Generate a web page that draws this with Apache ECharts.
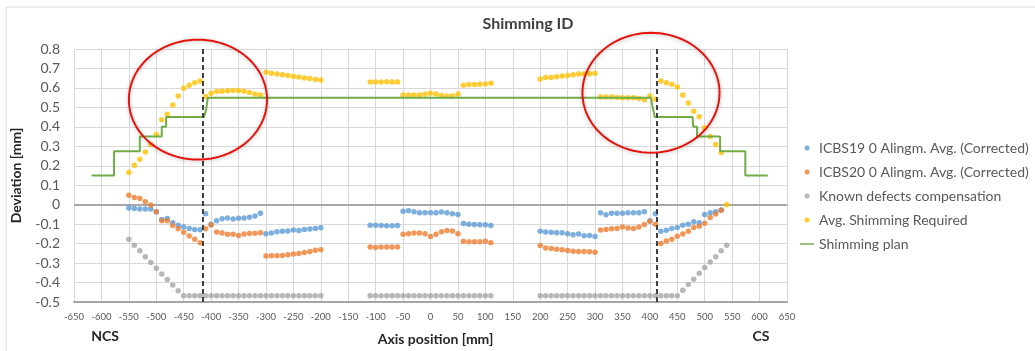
<!DOCTYPE html>
<html>
<head>
<meta charset="utf-8">
<script src="https://cdn.jsdelivr.net/npm/echarts@6/dist/echarts.min.js"></script>
<style>
  html, body { margin: 0; padding: 0; background: #ffffff; }
  #chart { width: 1035px; height: 351px; }
</style>
</head>
<body>
<div id="chart"></div>
<script>
// Axis positions [mm] where the shimming values were evaluated
const axisPos = [
  -550, -540, -530, -520, -510, -500, -490, -480, -470, -460, -450, -440, -430, -420,
  -410, -400, -390, -380, -370, -360, -350, -340, -330, -320, -310,
  -300, -290, -280, -270, -260, -250, -240, -230, -220, -210, -200,
  -110, -100, -90, -80, -70, -60, -50, -40, -30, -20, -10, 0, 10, 20, 30, 40, 50,
  60, 70, 80, 90, 100, 110,
  200, 210, 220, 230, 240, 250, 260, 270, 280, 290, 300,
  310, 320, 330, 340, 350, 360, 370, 380, 390, 400, 410,
  420, 430, 440, 450, 460, 470, 480, 490, 500, 510, 520, 530, 540
];

// ICBS19 0 Alingm. Avg. (Corrected) [mm]
const icbs19 = [
  -0.017, -0.020, -0.022, -0.022, -0.022, -0.036, -0.076, -0.071, -0.093, -0.105, -0.115, -0.122, -0.127, -0.129,
  -0.047, -0.100, -0.083, -0.072, -0.068, -0.073, -0.070, -0.068, -0.064, -0.058, -0.044,
  -0.149, -0.146, -0.139, -0.137, -0.135, -0.130, -0.132, -0.127, -0.125, -0.122, -0.118,
  -0.105, -0.105, -0.107, -0.108, -0.108, -0.107,
  -0.034, -0.031, -0.036, -0.041, -0.042, -0.042, -0.042, -0.037, -0.041, -0.046, -0.051,
  -0.097, -0.100, -0.102, -0.103, -0.103, -0.107,
  -0.137, -0.140, -0.142, -0.144, -0.144, -0.149, -0.154, -0.151, -0.159, -0.158, -0.163,
  -0.042, -0.052, -0.044, -0.044, -0.044, -0.042, -0.042, -0.041, -0.036, -0.083, -0.046,
  -0.137, -0.131, -0.122, -0.117, -0.106, -0.101, -0.088, -0.093, -0.051, -0.042, -0.036, -0.027, null
];

// ICBS20 0 Alingm. Avg. (Corrected) [mm]
const icbs20 = [
  0.049, 0.037, 0.032, 0.015, -0.002, -0.036, -0.083, -0.083, -0.107, -0.124, -0.142, -0.161, -0.178, -0.196,
  -0.124, -0.104, -0.140, -0.146, -0.152, -0.152, -0.158, -0.150, -0.148, -0.147, -0.144,
  -0.264, -0.262, -0.262, -0.261, -0.257, -0.254, -0.251, -0.246, -0.240, -0.234, -0.232,
  -0.217, -0.220, -0.217, -0.217, -0.217, -0.217,
  -0.152, -0.149, -0.146, -0.146, -0.149, -0.164, -0.152, -0.139, -0.132, -0.135, -0.149,
  -0.188, -0.190, -0.190, -0.190, -0.188, -0.196,
  -0.210, -0.222, -0.225, -0.229, -0.232, -0.236, -0.239, -0.241, -0.241, -0.242, -0.244,
  -0.130, -0.127, -0.124, -0.122, -0.115, -0.120, -0.122, -0.115, -0.102, -0.085, -0.100,
  -0.199, -0.187, -0.177, -0.162, -0.150, -0.137, -0.117, -0.111, -0.095, -0.066, -0.048, -0.028, null
];

// Known defects compensation [mm]
const knownDefects = [
  -0.178, -0.208, -0.237, -0.268, -0.297, -0.326, -0.356, -0.384, -0.413, -0.442, -0.468, -0.468, -0.468, -0.468,
  -0.468, -0.468, -0.468, -0.468, -0.468, -0.468, -0.468, -0.468, -0.468, -0.468, -0.468,
  -0.468, -0.468, -0.468, -0.468, -0.468, -0.468, -0.468, -0.468, -0.468, -0.468, -0.468,
  -0.468, -0.468, -0.468, -0.468, -0.468, -0.468,
  -0.468, -0.468, -0.468, -0.468, -0.468, -0.468, -0.468, -0.468, -0.468, -0.468, -0.468,
  -0.468, -0.468, -0.468, -0.468, -0.468, -0.468,
  -0.468, -0.468, -0.468, -0.468, -0.468, -0.468, -0.468, -0.468, -0.468, -0.468, -0.468,
  -0.468, -0.468, -0.468, -0.468, -0.468, -0.468, -0.468, -0.468, -0.468, -0.468, -0.468,
  -0.468, -0.468, -0.468, -0.468, -0.440, -0.410, -0.383, -0.352, -0.323, -0.295, -0.268, -0.237, -0.208
];

// Avg. Shimming Required [mm]
const shimRequired = [
  0.166, 0.203, 0.234, 0.271, 0.309, 0.361, 0.437, 0.465, 0.512, 0.559, 0.598, 0.614, 0.627, 0.635,
  0.556, 0.573, 0.582, 0.583, 0.585, 0.587, 0.587, 0.583, 0.577, 0.569, 0.563,
  0.680, 0.675, 0.671, 0.668, 0.664, 0.659, 0.656, 0.651, 0.648, 0.643, 0.641,
  0.630, 0.630, 0.630, 0.632, 0.630, 0.630,
  0.563, 0.563, 0.563, 0.564, 0.568, 0.573, 0.569, 0.561, 0.559, 0.559, 0.569,
  0.614, 0.617, 0.617, 0.619, 0.620, 0.624,
  0.646, 0.653, 0.654, 0.658, 0.661, 0.664, 0.668, 0.671, 0.671, 0.673, 0.676,
  0.554, 0.554, 0.553, 0.551, 0.549, 0.549, 0.549, 0.546, 0.539, 0.558, 0.542,
  0.635, 0.627, 0.619, 0.605, 0.563, 0.522, 0.480, 0.452, 0.395, 0.351, 0.309, 0.268, 0.000
];

// Shimming plan: step profile, x [mm] and shim thickness [mm]
const planX = [-618, -577, -577, -530, -530, -490, -490, -482, -482, -413, -409, -406,
               402, 405, 409, 478, 479, 486, 486, 528, 528, 574, 574, 615];
const planY = [0.15, 0.15, 0.275, 0.275, 0.35, 0.35, 0.40, 0.40, 0.45, 0.45, 0.49, 0.55,
               0.55, 0.50, 0.45, 0.45, 0.40, 0.40, 0.35, 0.35, 0.275, 0.275, 0.15, 0.15];

// Limits of the shimmed regions [mm]
const regionLimits = [-415, 412];

// Highlighted zones: centre x [mm], centre y [mm], half-width [mm], half-height [mm]
const highlightZones = [
  [-424, 0.540, 126, 0.308],
  [402, 0.575, 125, 0.308]
];

const xTicks = { min: -650, max: 650, step: 50 };
const yTicks = { min: -0.5, max: 0.8, step: 0.1 };

const FONT = 'Lato, "Open Sans", sans-serif';
const TXT = '#595959';
const GRID_LINE = '#d9d9d9';
const AXIS_LINE = '#a6a6a6';
const PLAN_GREEN = '#70ad47';

function pairs(xs, ys) {
  const out = [];
  for (let i = 0; i < xs.length; i++) {
    if (ys[i] !== null && ys[i] !== undefined) out.push([xs[i], ys[i]]);
  }
  return out;
}

const chart = echarts.init(document.getElementById('chart'), null, { renderer: 'canvas' });

function scatterSeries(name, values, color) {
  return {
    name: name,
    type: 'scatter',
    data: pairs(axisPos, values),
    symbol: 'circle',
    symbolSize: 5.5,
    itemStyle: { color: color },
    emphasis: { disabled: true },
    silent: true
  };
}

const option = {
  backgroundColor: '#ffffff',
  animation: false,
  textStyle: { fontFamily: FONT },
  title: {
    text: 'Shimming ID',
    left: 523,
    top: 11,
    textAlign: 'center',
    textStyle: { fontFamily: FONT, fontSize: 16, fontWeight: 'bold', color: '#404040' }
  },
  grid: { left: 74, right: 248, top: 49, bottom: 46, containLabel: false },
  legend: {
    orient: 'vertical',
    left: 800,
    top: 141,
    padding: 0,
    itemWidth: 14,
    itemHeight: 5,
    itemGap: 10,
    textStyle: { fontFamily: FONT, fontSize: 14, color: TXT },
    data: [
      { name: 'ICBS19 0 Alingm. Avg. (Corrected)', icon: 'circle' },
      { name: 'ICBS20 0 Alingm. Avg. (Corrected)', icon: 'circle' },
      { name: 'Known defects compensation', icon: 'circle' },
      { name: 'Avg. Shimming Required', icon: 'circle' },
      { name: 'Shimming plan', icon: 'path://M0,0H20V2H0Z', itemStyle: { color: PLAN_GREEN } }
    ]
  },
  xAxis: {
    type: 'value',
    min: xTicks.min,
    max: xTicks.max,
    interval: xTicks.step,
    name: 'Axis position [mm]',
    nameLocation: 'middle',
    nameGap: 30,
    nameTextStyle: { fontFamily: FONT, fontSize: 14, fontWeight: 'bold', color: '#262626', padding: [0, 0, 0, 10] },
    axisLine: { show: true, onZero: false, lineStyle: { color: AXIS_LINE, width: 2 } },
    axisTick: { show: false },
    axisLabel: { fontFamily: FONT, fontSize: 9.5, color: TXT, margin: 10, showMinLabel: true, showMaxLabel: true },
    splitLine: { show: true, lineStyle: { color: GRID_LINE, width: 1 } }
  },
  yAxis: {
    type: 'value',
    min: yTicks.min,
    max: yTicks.max,
    interval: yTicks.step,
    name: 'Deviation [mm]',
    nameLocation: 'middle',
    nameGap: 51,
    nameTextStyle: { fontFamily: FONT, fontSize: 14, fontWeight: 'bold', color: '#262626' },
    axisLine: { show: false },
    axisTick: { show: false },
    axisLabel: {
      fontFamily: FONT, fontSize: 14, color: TXT, margin: 14,
      formatter: function (v) { return String(Math.round(v * 10) / 10); }
    },
    splitLine: { show: true, lineStyle: { color: GRID_LINE, width: 1 } }
  },
  graphic: [
    {
      type: 'rect',
      shape: { x: 6, y: 7, width: 1040, height: 360 },
      style: { fill: 'none', stroke: '#d9d9d9', lineWidth: 1 },
      silent: true,
      z: -1
    },
    {
      type: 'text',
      x: 105, y: 336,
      style: { text: 'NCS', font: 'bold 14px ' + FONT, fill: '#262626', align: 'center', verticalAlign: 'middle' },
      silent: true
    },
    {
      type: 'text',
      x: 761, y: 336,
      style: { text: 'CS', font: 'bold 14px ' + FONT, fill: '#262626', align: 'center', verticalAlign: 'middle' },
      silent: true
    }
  ],
  series: [
    Object.assign(scatterSeries('ICBS19 0 Alingm. Avg. (Corrected)', icbs19, '#5b9bd5'), {
      markLine: {
        silent: true,
        symbol: ['none', 'none'],
        label: { show: false },
        lineStyle: { color: AXIS_LINE, width: 2, type: 'solid' },
        data: [{ yAxis: 0 }],
        z: 1
      }
    }),
    scatterSeries('ICBS20 0 Alingm. Avg. (Corrected)', icbs20, '#ed7d31'),
    scatterSeries('Known defects compensation', knownDefects, '#a5a5a5'),
    scatterSeries('Avg. Shimming Required', shimRequired, '#ffc000'),
    {
      name: 'Shimming plan',
      type: 'line',
      data: pairs(planX, planY),
      symbol: 'none',
      lineStyle: { color: PLAN_GREEN, width: 2 },
      itemStyle: { color: PLAN_GREEN },
      emphasis: { disabled: true },
      silent: true,
      markLine: {
        silent: true,
        symbol: ['none', 'none'],
        label: { show: false },
        lineStyle: { color: '#404040', width: 2, type: [5, 3] },
        data: regionLimits.map(function (x) { return { xAxis: x }; })
      }
    },
    {
      name: 'zones',
      type: 'custom',
      coordinateSystem: 'cartesian2d',
      data: highlightZones,
      silent: true,
      clip: false,
      z: 10,
      renderItem: function (params, api) {
        const c = api.coord([api.value(0), api.value(1)]);
        const s = api.size([api.value(2), api.value(3)]);
        const pts = [];
        const n = 96;
        for (let k = 0; k < n; k++) {
          const a = (k / n) * Math.PI * 2;
          pts.push([c[0] + s[0] * Math.cos(a), c[1] + s[1] * Math.sin(a)]);
        }
        return {
          type: 'polygon',
          shape: { points: pts },
          style: {
            fill: 'none',
            stroke: '#e8140c',
            lineWidth: 2,
            shadowBlur: 4,
            shadowColor: 'rgba(0,0,0,0.25)',
            shadowOffsetY: 1
          }
        };
      }
    }
  ]
};

chart.setOption(option);
</script>
</body>
</html>
